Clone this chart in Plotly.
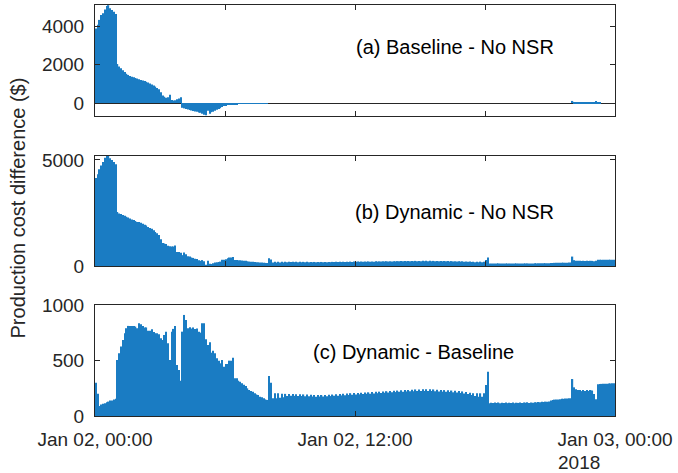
import plotly.graph_objects as go
import pandas as pd

# 5-minute intervals on 2018-01-02 (bar centres)
times = pd.date_range("2018-01-02 00:02:30", periods=288, freq="5min")

# (a) Baseline - No NSR
base_minus_nonsr = [
    3900, 4090, 4350, 4610, 4700, 4900, 5080, 5120, 4960, 4870, 4780, 4660,
    2040, 1910, 1820, 1720, 1620, 1530, 1470, 1420, 1380, 1350, 1310, 1280,
    1240, 1210, 1180, 1150, 1110, 1070, 1020, 970, 920, 860, 790, 720,
    560, 400, 330, 280, 300, 430, 160, 130, 150, 200, 240, 300,
    -250, -280, -310, -340, -360, -390, -420, -440, -460, -490, -510, -560,
    -620, -640, -400, -560, -480, -460, -400, -350, -310, -270, -210, -150,
    -150, -110, -100, -95, -100, -60, -55, -50, -45, -40, -35, -30,
    -28, -26, -24, -22, -20, -18, -15, -12, -10, -8, -5, -3,
    0, 0, 0, 0, 0, 0, 0, 0, 0, 0, 0, 0,
    0, 0, 0, 0, 0, 0, 0, 0, 0, 0, 0, 0,
    0, 0, 0, 0, 0, 0, 0, 0, 0, 0, 0, 0,
    0, 0, 0, 0, 0, 0, 0, 0, 0, 0, 0, 0,
    0, 0, 0, 0, 0, 0, 0, 0, 0, 0, 0, 0,
    0, 0, 0, 0, 0, 0, 0, 0, 0, 0, 0, 0,
    0, 0, 0, 0, 0, 0, 0, 0, 0, 0, 0, 0,
    0, 0, 0, 0, 0, 0, 0, 0, 0, 0, 0, 0,
    0, 0, 0, 0, 0, 0, 0, 0, 0, 0, 0, 0,
    0, 0, 0, 0, 0, 0, 0, 0, 0, 0, 0, 0,
    0, 0, 0, 0, 0, 0, 0, 0, 0, 0, 0, 0,
    0, 0, 0, 0, 0, 0, 0, 0, 0, 0, 0, 0,
    0, 0, 0, 0, 0, 0, 0, 0, 0, 0, 0, 0,
    0, 0, 0, 0, 0, 0, 0, 0, 0, 0, 0, 0,
    110, 15, 10, 10, 10, 10, 10, 10, 10, 10, 10, 10,
    20, 100, 10, 5, 0, 0, 0, 0, 0, 0, 0, 0,
]

# (b) Dynamic - No NSR
dyn_minus_nonsr = [
    4150, 4330, 4560, 4740, 4900, 5100, 5190, 5200, 5080, 5000, 4900, 4800,
    2546, 2477, 2447, 2407, 2368, 2323, 2284, 2234, 2194, 2164, 2118, 2073,
    2078, 2040, 1994, 1950, 1910, 1841, 1791, 1754, 1680, 1608, 1538, 1458,
    1262, 1087, 1062, 1042, 957, 936, 922, 917, 964, 661, 656, 619,
    512, 633, 558, 453, 442, 400, 380, 345, 330, 272, 243, 278,
    218, 53, 242, 106, 92, 130, 166, 171, 190, 206, 296, 296,
    320, 360, 400, 405, 427, 281, 286, 269, 265, 255, 248, 241,
    222, 209, 201, 198, 185, 177, 175, 163, 159, 152, 145, 142,
    362, 301, 160, 205, 160, 205, 165, 200, 170, 200, 180, 198,
    182, 198, 182, 196, 180, 196, 180, 195, 178, 195, 178, 192,
    176, 190, 175, 190, 176, 190, 176, 190, 178, 192, 180, 194,
    182, 196, 184, 198, 186, 200, 188, 204, 190, 206, 192, 208,
    194, 208, 196, 210, 198, 212, 200, 214, 202, 216, 204, 218,
    206, 220, 208, 222, 210, 224, 212, 226, 214, 228, 216, 230,
    218, 232, 220, 234, 222, 236, 224, 238, 224, 240, 226, 240,
    226, 241, 226, 241, 226, 241, 225, 240, 224, 238, 222, 236,
    220, 234, 218, 232, 216, 230, 214, 228, 212, 226, 208, 222,
    204, 216, 198, 210, 190, 205, 180, 205, 175, 205, 175, 205,
    280, 400, 115, 120, 118, 122, 118, 122, 116, 120, 118, 122,
    116, 120, 118, 122, 116, 120, 118, 122, 118, 122, 120, 124,
    118, 122, 120, 124, 122, 126, 124, 128, 126, 130, 128, 132,
    140, 145, 148, 150, 150, 152, 155, 155, 158, 158, 160, 160,
    444, 274, 251, 245, 245, 235, 245, 235, 245, 235, 245, 240,
    219, 251, 297, 295, 290, 292, 292, 292, 294, 294, 295, 295,
]

# (c) Dynamic - Baseline
dyn_minus_base = [
    300, 200, 90, 105, 110, 115, 125, 130, 140, 140, 150, 155,
    506, 567, 627, 687, 748, 793, 814, 814, 814, 814, 808, 793,
    838, 830, 814, 800, 800, 771, 771, 784, 760, 748, 748, 738,
    702, 687, 732, 762, 657, 506, 762, 787, 814, 461, 416, 319,
    762, 913, 868, 793, 802, 790, 800, 785, 790, 762, 753, 838,
    838, 693, 642, 666, 572, 590, 566, 521, 500, 476, 506, 446,
    470, 470, 500, 500, 527, 341, 341, 319, 310, 295, 283, 271,
    250, 235, 225, 220, 205, 195, 190, 175, 169, 160, 150, 145,
    362, 301, 160, 205, 160, 205, 165, 200, 170, 200, 180, 198,
    182, 198, 182, 196, 180, 196, 180, 195, 178, 195, 178, 192,
    176, 190, 175, 190, 176, 190, 176, 190, 178, 192, 180, 194,
    182, 196, 184, 198, 186, 200, 188, 204, 190, 206, 192, 208,
    194, 208, 196, 210, 198, 212, 200, 214, 202, 216, 204, 218,
    206, 220, 208, 222, 210, 224, 212, 226, 214, 228, 216, 230,
    218, 232, 220, 234, 222, 236, 224, 238, 224, 240, 226, 240,
    226, 241, 226, 241, 226, 241, 225, 240, 224, 238, 222, 236,
    220, 234, 218, 232, 216, 230, 214, 228, 212, 226, 208, 222,
    204, 216, 198, 210, 190, 205, 180, 205, 175, 205, 175, 205,
    280, 400, 115, 120, 118, 122, 118, 122, 116, 120, 118, 122,
    116, 120, 118, 122, 116, 120, 118, 122, 118, 122, 120, 124,
    118, 122, 120, 124, 122, 126, 124, 128, 126, 130, 128, 132,
    140, 145, 148, 150, 150, 152, 155, 155, 158, 158, 160, 160,
    334, 259, 241, 235, 235, 225, 235, 225, 235, 225, 235, 230,
    199, 151, 287, 290, 290, 292, 292, 292, 294, 294, 295, 295,
]

panel_labels = ["(a) Baseline - No NSR", "(b) Dynamic - No NSR", "(c) Dynamic - Baseline"]
x_tick_vals = ["2018-01-02 00:00", "2018-01-02 12:00", "2018-01-03 00:00"]
x_tick_text = ["Jan 02, 00:00", "Jan 02, 12:00", "Jan 03, 00:00"]
x_minor_ticks = ["2018-01-02 00:00", "2018-01-02 06:00", "2018-01-02 12:00",
                 "2018-01-02 18:00", "2018-01-03 00:00"]
y_ticks_a = [0, 2000, 4000]
y_ticks_b = [0, 5000]
y_ticks_c = [0, 500, 1000]

BAR = "#1a7cc3"
AX = "#262626"
FONT = "Liberation Sans, Arial, sans-serif"

fig = go.Figure()
for k, vals in enumerate([base_minus_nonsr, dyn_minus_nonsr, dyn_minus_base]):
    sfx = "" if k == 0 else str(k + 1)
    fig.add_trace(go.Bar(x=times, y=vals, marker=dict(color=BAR, line=dict(width=0)),
                         xaxis="x" + sfx, yaxis="y" + sfx, showlegend=False))

xr = ["2018-01-02 00:00", "2018-01-03 00:00"]
common_x = dict(type="date", range=xr, showline=True, linecolor=AX, linewidth=1,
                mirror="ticks", ticks="inside", ticklen=5, tickcolor=AX,
                showgrid=False, zeroline=False, automargin=False)
common_y = dict(showline=True, linecolor=AX, linewidth=1, mirror="ticks",
                ticks="inside", ticklen=5, tickcolor=AX, showgrid=False, automargin=False,
                tickfont=dict(family=FONT, size=19, color=AX), ticklabelstandoff=6)

dom_a = [0.7299, 1.0]
dom_b = [0.365, 0.6333]
dom_c = [0.0, 0.2701]

fig.update_layout(
    width=678, height=473,
    margin=dict(l=95, r=63, t=5, b=57, autoexpand=False),
    paper_bgcolor="white", plot_bgcolor="white",
    bargap=0.3,
    font=dict(family=FONT, size=19, color=AX),
    xaxis=dict(common_x, anchor="y", tickvals=x_minor_ticks, showticklabels=False),
    xaxis2=dict(common_x, anchor="y2", tickvals=x_minor_ticks, showticklabels=False),
    xaxis3=dict(common_x, anchor="y3", tickvals=x_tick_vals, ticktext=x_tick_text,
                tickfont=dict(family=FONT, size=19, color=AX), ticklabelstandoff=6),
    yaxis=dict(common_y, domain=dom_a, anchor="x", range=[-680, 5130], tickvals=y_ticks_a,
               zeroline=True, zerolinecolor=AX, zerolinewidth=1),
    yaxis2=dict(common_y, domain=dom_b, anchor="x2", range=[0, 5200], tickvals=y_ticks_b, zeroline=False),
    yaxis3=dict(common_y, domain=dom_c, anchor="x3", range=[0, 1003], tickvals=y_ticks_c, zeroline=False),
)

ann_pos = [(0.692, 0.898), (0.692, 0.496), (0.612, 0.156)]
for txt, (px, py) in zip(panel_labels, ann_pos):
    fig.add_annotation(x=px, y=py, xref="paper", yref="paper", text=txt, showarrow=False,
                       xanchor="center", yanchor="middle",
                       font=dict(family=FONT, size=20, color="black"))

fig.add_annotation(x=-0.148, y=0.505, xref="paper", yref="paper",
                   text="Production cost difference ($)", textangle=-90, showarrow=False,
                   xanchor="center", yanchor="middle", font=dict(family=FONT, size=20, color=AX))
fig.add_annotation(x=0.8865, y=-0.114, xref="paper", yref="paper", text="2018",
                   showarrow=False, xanchor="left", yanchor="middle",
                   font=dict(family=FONT, size=19, color=AX))

fig.write_html("out.html", config={"displayModeBar": False},
               post_script="document.body.style.margin='0px';")
